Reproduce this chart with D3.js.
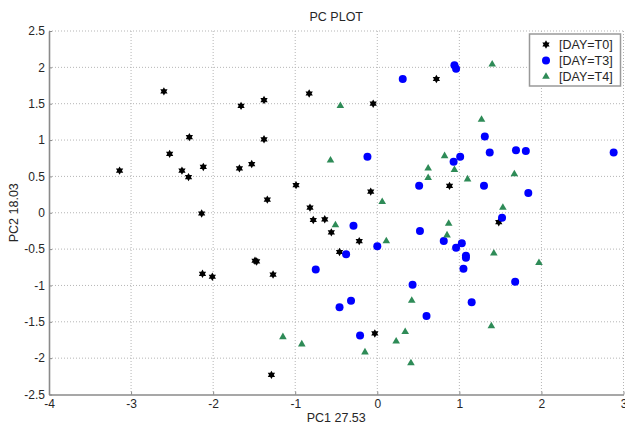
<!DOCTYPE html>
<html>
<head>
<meta charset="utf-8">
<script src="https://cdn.jsdelivr.net/npm/d3@7"></script>
<style>
  html, body { margin: 0; padding: 0; background: #fff; }
  svg { display: block; font-family: "Liberation Sans", Arial, sans-serif; }
</style>
</head>
<body>
<svg id="chart" width="625" height="428"></svg>
<script>
// ---- data ----
const seriesNames = ["[DAY=T0]", "[DAY=T3]", "[DAY=T4]"];
const xTicks = [-4, -3, -2, -1, 0, 1, 2, 3];
const yTicks = [-2.5, -2, -1.5, -1, -0.5, 0, 0.5, 1, 1.5, 2, 2.5];

const t0X = [-3.14,-2.60,-2.53,-2.29,-2.38,-2.30,-2.12,-2.14,-2.13,-2.01,-1.49,-1.47,-1.27,-1.29,-1.66,-1.38,-1.38,-1.68,-1.53,-1.34,-0.99,-0.83,-0.82,-0.78,-0.05,0.72,-0.08,0.88,-0.64,-0.56,-0.22,-0.46,-0.03,1.48];
const t0Y = [0.58,1.67,0.81,1.04,0.58,0.49,0.63,-0.01,-0.84,-0.88,-0.66,-0.67,-0.85,-2.23,1.47,1.55,1.01,0.61,0.67,0.18,0.38,1.64,0.07,-0.10,1.50,1.84,0.29,0.37,-0.09,-0.27,-0.39,-0.54,-1.66,-0.13];

const t3X = [0.31,0.94,0.96,-0.12,1.31,1.37,1.69,1.81,2.88,1.01,0.93,0.51,1.30,1.84,1.52,-0.29,0.52,0.00,-0.38,0.81,1.03,0.96,1.08,1.08,1.05,-0.75,1.68,0.43,-0.32,-0.46,1.15,0.60,-0.21];
const t3Y = [1.84,2.03,1.98,0.77,1.05,0.83,0.86,0.85,0.83,0.77,0.70,0.37,0.37,0.27,-0.07,-0.18,-0.25,-0.46,-0.57,-0.39,-0.42,-0.48,-0.59,-0.62,-0.77,-0.78,-0.95,-0.99,-1.21,-1.30,-1.23,-1.42,-1.69];

const t4X = [1.40,-0.45,1.27,-0.57,0.82,0.62,0.94,0.62,1.10,1.67,0.06,1.53,-0.51,0.87,0.85,0.11,1.42,1.97,0.42,1.39,0.34,0.23,-0.15,0.41,-0.92,-1.15];
const t4Y = [2.05,1.48,1.29,0.73,0.79,0.62,0.60,0.49,0.47,0.54,0.16,0.08,-0.16,-0.14,-0.30,-0.38,-0.55,-0.68,-1.20,-1.55,-1.63,-1.76,-1.91,-2.06,-1.80,-1.70];

// ---- layout ----
const svg = d3.select("#chart");
const pL = 49, pR = 623.5, pT = 31, pB = 394.5;
const x = d3.scaleLinear().domain([-4, 3]).range([pL, pR]);
const y = d3.scaleLinear().domain([-2.5, 2.5]).range([pB, pT]);

const axisColor = "#8a8a8a";
const textColor = "#262626";
const colors = ["#000000", "#0000ff", "#2e8b57"];

// grid
const grid = svg.append("g");
grid.selectAll("line.gx").data(xTicks.filter(d => d !== -4)).join("line")
  .attr("x1", d => x(d)).attr("x2", d => x(d))
  .attr("y1", pT).attr("y2", pB)
  .attr("stroke", "#b5b5b5").attr("stroke-width", 1).attr("stroke-dasharray", "1,2");
grid.selectAll("line.gy").data(yTicks.filter(d => d !== -2.5)).join("line")
  .attr("x1", pL).attr("x2", pR)
  .attr("y1", d => y(d)).attr("y2", d => y(d))
  .attr("stroke", "#b5b5b5").attr("stroke-width", 1).attr("stroke-dasharray", "1,2");

// axes
const fmt = d => String(d);
const xAxis = svg.append("g").attr("transform", `translate(0,${pB})`)
  .call(d3.axisBottom(x).tickValues(xTicks).tickFormat(fmt).tickSizeInner(-3).tickSizeOuter(0).tickPadding(5));
const yAxis = svg.append("g").attr("transform", `translate(${pL},0)`)
  .call(d3.axisLeft(y).tickValues(yTicks).tickFormat(fmt).tickSizeInner(-3).tickSizeOuter(0).tickPadding(4));
[xAxis, yAxis].forEach(g => {
  g.select(".domain").attr("stroke", axisColor).attr("stroke-width", 1.6);
  g.selectAll(".tick line").attr("stroke", axisColor).attr("stroke-width", 1);
  g.selectAll(".tick text").attr("fill", textColor).style("font-size", "12px")
    .style("font-family", "'Liberation Sans', Arial, sans-serif");
});

// marker shapes
function hexagram(R) {
  const p1 = [-90, 30, 150].map(a => [R * Math.cos(a * Math.PI / 180), R * Math.sin(a * Math.PI / 180)]);
  const p2 = [90, 210, 330].map(a => [R * Math.cos(a * Math.PI / 180), R * Math.sin(a * Math.PI / 180)]);
  const s = pts => "M" + pts.map(p => p[0].toFixed(2) + "," + p[1].toFixed(2)).join("L") + "Z";
  return s(p1) + s(p2);
}
function triangle(R) {
  const pts = [-90, 30, 150].map(a => [R * Math.cos(a * Math.PI / 180), R * Math.sin(a * Math.PI / 180) + R * 0.15]);
  return "M" + pts.map(p => p[0].toFixed(2) + "," + p[1].toFixed(2)).join("L") + "Z";
}
const markerPath = [hexagram(4.2), d3.symbol().type(d3.symbolCircle).size(Math.PI * 4 * 4)(), triangle(4.4)];

const series = [
  { xs: t0X, ys: t0Y },
  { xs: t3X, ys: t3Y },
  { xs: t4X, ys: t4Y }
];
const plot = svg.append("g");
series.forEach((s, i) => {
  const pts = s.xs.map((v, j) => ({ x: v, y: s.ys[j] }));
  plot.selectAll(null).data(pts).join("path")
    .attr("d", markerPath[i])
    .attr("transform", d => `translate(${x(d.x)},${y(d.y)})`)
    .attr("fill", colors[i]);
});

// title and labels
svg.append("text").attr("x", (pL + pR) / 2).attr("y", 21)
  .attr("text-anchor", "middle").attr("fill", textColor).style("font-size", "12.5px").text("PC PLOT");
svg.append("text").attr("x", (pL + pR) / 2).attr("y", 422)
  .attr("text-anchor", "middle").attr("fill", textColor).style("font-size", "12.5px").text("PC1 27.53");
svg.append("text").attr("transform", `translate(18,${(pT + pB) / 2}) rotate(-90)`)
  .attr("text-anchor", "middle").attr("fill", textColor).style("font-size", "12.5px").text("PC2 18.03");

// legend
const lg = svg.append("g");
lg.append("rect").attr("x", 529.5).attr("y", 34).attr("width", 91).attr("height", 52)
  .attr("fill", "#fff").attr("stroke", "#999").attr("stroke-width", 1.5);
const rowY = [44.5, 60.5, 76];
seriesNames.forEach((name, i) => {
  lg.append("path").attr("d", markerPath[i]).attr("transform", `translate(546,${rowY[i]})`).attr("fill", colors[i]);
  lg.append("text").attr("x", 559).attr("y", rowY[i] + 4.5).attr("fill", textColor)
    .style("font-size", "12.5px").text(name);
});
</script>
</body>
</html>
